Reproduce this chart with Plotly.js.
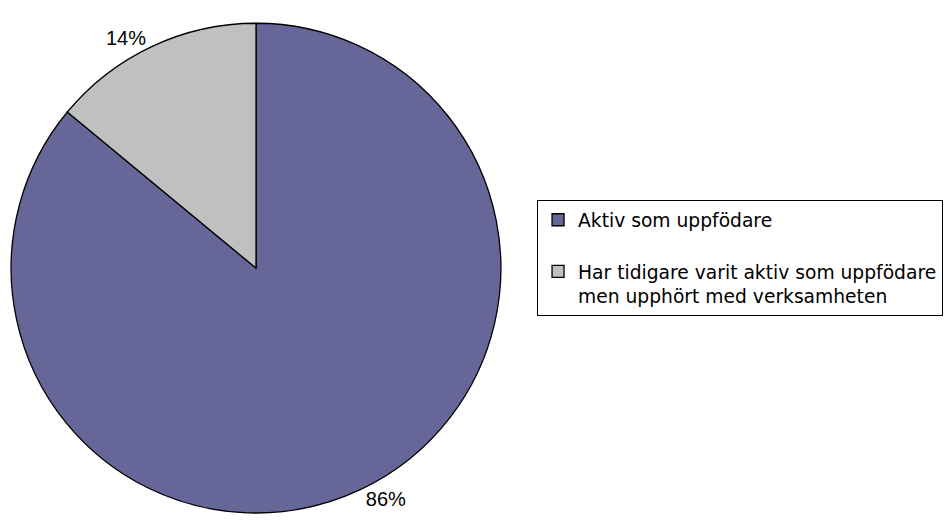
<!DOCTYPE html>
<html><head><meta charset="utf-8">
<script src="https://cdn.plot.ly/plotly-3.0.1.min.js"></script>
<style>html,body{margin:0;padding:0;background:#fff}#chart{width:948px;height:528px}</style>
</head><body><div id="chart"></div>
<script>
const labels = ["Aktiv som uppfödare<br>&nbsp;", "Har tidigare varit aktiv som uppfödare<br>men upphört med verksamheten"];
const values = [86, 14];
const colors = ["#666699", "#C0C0C0"];

const trace = {
  type: "pie",
  labels: labels,
  values: values,
  sort: false,
  direction: "clockwise",
  rotation: 0,
  marker: {colors: colors, line: {color: "#000", width: 1.3}},
  textinfo: "percent",
  texttemplate: "%{percent:.0%}",
  textposition: "outside",
  outsidetextfont: {family: "Liberation Sans, Arial, sans-serif", size: 20, color: "#000"},
  hoverinfo: "label+percent",
  domain: {x: [0.0116, 0.5285], y: [0.0284, 0.956]},
  automargin: false
};

const layout = {
  width: 948, height: 528,
  margin: {l: 0, r: 0, t: 0, b: 0},
  paper_bgcolor: "#fff",
  showlegend: true,
  legend: {
    x: 0.5665, y: 0.621, xanchor: "left", yanchor: "top",
    bordercolor: "#000", borderwidth: 1,
    valign: "top",
    itemwidth: 30,
    font: {family: "DejaVu Sans, Verdana, sans-serif", size: 18.7, color: "#000"}
  },
  font: {family: "Liberation Sans, Arial, sans-serif"}
};

Plotly.newPlot("chart", [trace], layout, {displayModeBar: false, staticPlot: true});
</script></body></html>
